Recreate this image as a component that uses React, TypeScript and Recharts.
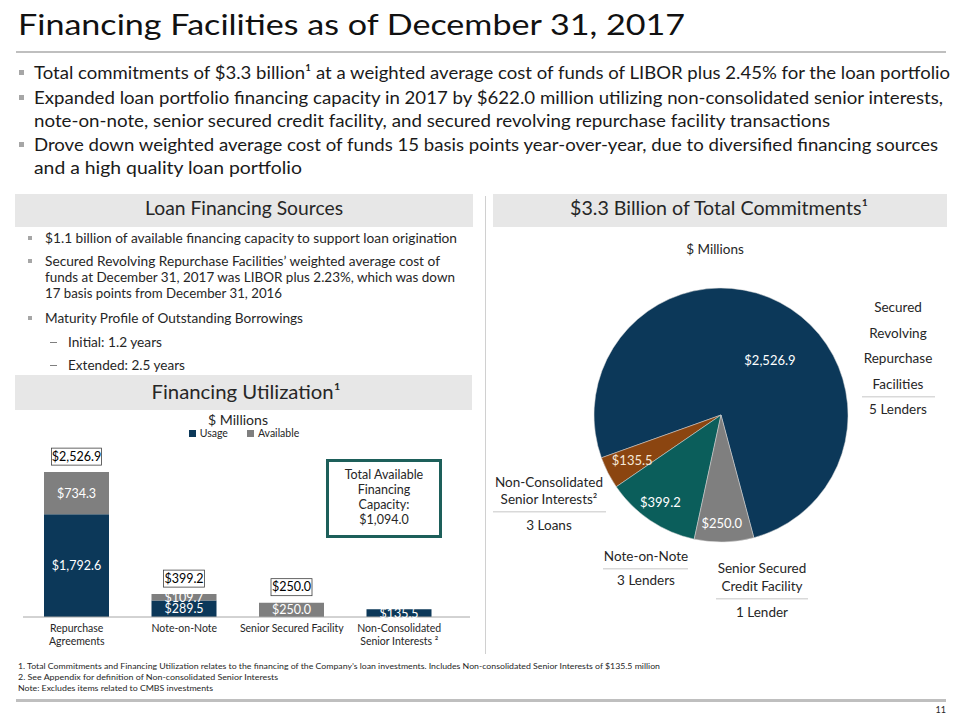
import React from 'react';
import { BarChart, Bar, XAxis, YAxis, LabelList, Legend, PieChart, Pie, Cell } from 'recharts';

// ---------- data ----------
const categories = ['Repurchase Agreements', 'Note-on-Note', 'Senior Secured Facility', 'Non-Consolidated Senior Interests'];
const tickLines = [['Repurchase', 'Agreements'], ['Note-on-Note'], ['Senior Secured Facility'], ['Non-Consolidated', 'Senior Interests ²']];
const usage = [1792.6, 289.5, 0, 135.5];
const available = [734.3, 109.7, 250.0, 0];
const totals = [2526.9, 399.2, 250.0, 135.5];
const totalAvailable = 1094.0;
const seriesNames = ['Usage', 'Available'];

const pieNames = ['Secured Revolving Repurchase Facilities', 'Non-Consolidated Senior Interests', 'Note-on-Note', 'Senior Secured Credit Facility'];
const pieValues = [2526.9, 135.5, 399.2, 250.0];

const topBullets = [
  ['Total commitments of $3.3 billion¹ at a weighted average cost of funds of LIBOR plus 2.45% for the loan portfolio'],
  ['Expanded loan portfolio financing capacity in 2017 by $622.0 million utilizing non-consolidated senior interests,', 'note-on-note, senior secured credit facility, and secured revolving repurchase facility transactions'],
  ['Drove down weighted average cost of funds 15 basis points year-over-year, due to diversified financing sources', 'and a high quality loan portfolio'],
];

const footnotes = [
  '1. Total Commitments and Financing Utilization relates to the financing of the Company’s loan investments. Includes Non-consolidated Senior Interests of $135.5 million',
  '2. See Appendix for definition of Non-consolidated Senior Interests',
  'Note: Excludes items related to CMBS investments',
];

// ---------- styles ----------
const FONT = 'Lato, "Liberation Sans", Arial, sans-serif';
const NAVY = '#0c3859';
const GRAY = '#7f7f7f';
const ORANGE = '#8b4510';
const TEAL = '#0b5e5b';
const pieColors = [NAVY, ORANGE, TEAL, GRAY];
const TXT = '#262626';

const fmt = (v: number) => '$' + v.toLocaleString('en-US', { minimumFractionDigits: 1, maximumFractionDigits: 1 });

const barData = categories.map((c, i) => ({ name: c, usage: usage[i], available: available[i], total: totals[i] }));
const pieData = pieNames.map((n, i) => ({ name: n, value: pieValues[i] }));

function T(props: any) {
  const { x, y, size, children, anchor = 'start', len, fill = TXT } = props;
  return (
    <text x={x} y={y} fontSize={size} textAnchor={anchor} fill={fill} fontFamily={FONT}
      textLength={len} lengthAdjust={len ? 'spacingAndGlyphs' : undefined}>
      {children}
    </text>
  );
}

function CategoryTick(props: any) {
  const { x, y, index } = props;
  const lines = tickLines[index] || [];
  return (
    <g>
      {lines.map((l, k) => (
        <text key={k} x={x} y={y + 15 + k * 13} textAnchor="middle" fontSize={10.5} fill={TXT} fontFamily={FONT}>{l}</text>
      ))}
    </g>
  );
}

function InsideLabel(props: any) {
  const { x, y, width, height, value } = props;
  if (!value) return null;
  return (
    <text x={Number(x) + Number(width) / 2} y={Number(y) + Number(height) / 2} dy="0.36em" textAnchor="middle"
      fontSize={12.5} fill="#ffffff" fontFamily={FONT}>{fmt(Number(value))}</text>
  );
}

function TotalLabel(props: any) {
  const { x, y, width, value } = props;
  const s = fmt(Number(value));
  const w = s.length * 4.5 + 14;
  const cx = Number(x) + Number(width) / 2;
  const bottom = Number(y) - 7;
  return (
    <g>
      <rect x={cx - w / 2} y={bottom - 17} width={w} height={17} fill="#fff" stroke="#404040" strokeWidth={0.8} />
      <text x={cx} y={bottom - 4.5} textAnchor="middle" fontSize={12.5} fill="#000" fontFamily={FONT}>{s}</text>
    </g>
  );
}

function LegendContent(props: any) {
  const items = [...(props.payload || [])].sort(
    (a: any, b: any) => seriesNames.indexOf(a.value) - seriesNames.indexOf(b.value)
  );
  return (
    <div style={{ display: 'flex', justifyContent: 'center', gap: 19, fontSize: 10.5, fontFamily: FONT, color: TXT, lineHeight: '12px' }}>
      {items.map((p: any, i: number) => (
        <span key={i} style={{ display: 'flex', alignItems: 'center' }}>
          <span style={{ width: 7, height: 7, background: p.color, marginRight: 4, display: 'inline-block' }} />
          {p.value}
        </span>
      ))}
    </div>
  );
}

const RAD = Math.PI / 180;
const labelRadius = [0.58, 0.785, 0.835, 0.85];
const labelAngleShift = [-14, 0, -1, -1];
function PieLabel(props: any) {
  const { cx, cy, midAngle, outerRadius, index, value } = props;
  const r = outerRadius * labelRadius[index];
  const a = (midAngle + labelAngleShift[index]) * RAD;
  const x = cx + r * Math.cos(-a);
  const y = cy + r * Math.sin(-a);
  return (
    <text x={x} y={y} dy="0.36em" textAnchor="middle" fontSize={13} fill={index === 1 ? '#f6e8d8' : '#ffffff'} fontFamily={FONT}>
      {fmt(Number(value))}
    </text>
  );
}

function Background() {
  const bulletY = [73, 98, 145];
  const lineY: number[][] = [[79], [104, 127], [151, 174]];
  const lineLen: number[][] = [[916], [909, 796], [904, 268]];
  return (
    <svg width={960} height={720} style={{ position: 'absolute', left: 0, top: 0 }}>
      <rect x={0} y={0} width={960} height={720} fill="#ffffff" />
      {/* title */}
      <T x={18} y={35} size={28} len={667} fill="#111">Financing Facilities as of December 31, 2017</T>
      <rect x={16} y={51} width={930} height={2} fill="#bfbfbf" />
      {/* top bullets */}
      {topBullets.map((b, i) => (
        <g key={i}>
          <rect x={19} y={bulletY[i] - 3} width={5} height={5} fill="#a6a6a6" />
          {b.map((l, k) => (
            <T key={k} x={34} y={lineY[i][k]} size={18} len={lineLen[i][k]} fill="#1a1a1a">{l}</T>
          ))}
        </g>
      ))}
      {/* section headers */}
      <rect x={15} y={194} width={458} height={33} fill="#e7e7e7" />
      <T x={244} y={215} size={19} anchor="middle" len={198}>Loan Financing Sources</T>
      <rect x={493} y={194} width={454} height={33} fill="#e7e7e7" />
      <T x={719} y={215} size={19} anchor="middle" len={298}>$3.3 Billion of Total Commitments¹</T>
      <rect x={485} y={196} width={1} height={458} fill="#d0d0d0" />
      {/* left bullets */}
      <rect x={28} y={236} width={4} height={4} fill="#a6a6a6" />
      <T x={45} y={242.5} size={13} len={412}>$1.1 billion of available financing capacity to support loan origination</T>
      <rect x={28} y={259} width={4} height={4} fill="#a6a6a6" />
      <T x={45} y={265.5} size={13} len={395}>Secured Revolving Repurchase Facilities’ weighted average cost of</T>
      <T x={45} y={281.5} size={13} len={410}>funds at December 31, 2017  was LIBOR plus 2.23%,  which was down</T>
      <T x={45} y={297.5} size={13} len={237}>17 basis points from December 31, 2016</T>
      <rect x={28} y={316} width={4} height={4} fill="#a6a6a6" />
      <T x={45} y={322.5} size={13} len={258}>Maturity Profile of Outstanding Borrowings</T>
      <rect x={50} y={342} width={7} height={1} fill="#7f7f7f" />
      <T x={68} y={347} size={13} len={94}>Initial: 1.2 years</T>
      <rect x={50} y={365} width={7} height={1} fill="#7f7f7f" />
      <T x={68} y={369.5} size={13} len={117}>Extended: 2.5 years</T>
      {/* financing utilization header */}
      <rect x={15} y={375} width={457} height={35} fill="#e7e7e7" />
      <T x={246} y={399} size={19} anchor="middle" len={189}>Financing Utilization¹</T>
      <T x={238} y={425} size={14} anchor="middle" len={60}>$ Millions</T>
      {/* total available box */}
      <rect x={327.5} y={460.5} width={113} height={76} fill="#fff" stroke="#1d5f5a" strokeWidth={3} />
      <T x={384} y={479} size={12.5} anchor="middle">Total Available</T>
      <T x={384} y={494} size={12.5} anchor="middle">Financing</T>
      <T x={384} y={509} size={12.5} anchor="middle">Capacity:</T>
      <T x={384} y={524} size={12.5} anchor="middle">{fmt(totalAvailable)}</T>
      {/* pie annotations */}
      <T x={715} y={254} size={13.5} anchor="middle">$ Millions</T>
      <T x={898} y={312} size={13.5} anchor="middle">Secured</T>
      <T x={898} y={338} size={13.5} anchor="middle">Revolving</T>
      <T x={898} y={363} size={13.5} anchor="middle">Repurchase</T>
      <T x={898} y={389} size={13.5} anchor="middle">Facilities</T>
      <rect x={862} y={396} width={73} height={1.5} fill="#d9d9d9" />
      <T x={898} y={414} size={13.5} anchor="middle">5 Lenders</T>
      <T x={549} y={487} size={13.5} anchor="middle">Non-Consolidated</T>
      <T x={549} y={504} size={13.5} anchor="middle">Senior Interests²</T>
      <rect x={493} y={511} width={113} height={1.5} fill="#d9d9d9" />
      <T x={549} y={530} size={13.5} anchor="middle">3 Loans</T>
      <T x={646} y={561} size={13.5} anchor="middle">Note-on-Note</T>
      <rect x={603} y={568} width={85} height={1.5} fill="#d9d9d9" />
      <T x={646} y={585} size={13.5} anchor="middle">3 Lenders</T>
      <T x={762} y={573} size={13.5} anchor="middle">Senior Secured</T>
      <T x={762} y={591} size={13.5} anchor="middle">Credit Facility</T>
      <rect x={716} y={598} width={92} height={1.5} fill="#d9d9d9" />
      <T x={762} y={617} size={13.5} anchor="middle">1 Lender</T>
      {/* footnotes */}
      <T x={18} y={669} size={8} len={642}>{footnotes[0]}</T>
      <T x={18} y={680} size={8} len={260}>{footnotes[1]}</T>
      <T x={18} y={691} size={8} len={195}>{footnotes[2]}</T>
      <rect x={16} y={699} width={930} height={3} fill="#bfbfbf" />
      <T x={946} y={713} size={9} anchor="end">11</T>
    </svg>
  );
}

export default function App() {
  return (
    <div style={{ position: 'absolute', left: 0, top: 0, width: 960, height: 720, background: '#fff', fontFamily: FONT }}>
      <Background />
      <div style={{ position: 'absolute', left: 0, top: 400 }}>
        <BarChart width={480} height={250} data={barData} margin={{ top: 45, right: 10, bottom: 0, left: 23 }} barSize={65}>
          <XAxis dataKey="name" interval={0} height={33} tickSize={0} tickMargin={0} tickLine={false}
            axisLine={{ stroke: '#a6a6a6' }} padding={{ left: 0, right: 17 }} tick={<CategoryTick />} />
          <YAxis hide domain={[0, 3000]} />
          <Legend verticalAlign="middle" align="center" layout="horizontal" itemSorter={null}
            wrapperStyle={{ top: 27, left: 0, width: 488, height: 14 }} content={<LegendContent />} />
          <Bar dataKey="usage" name={seriesNames[0]} stackId="a" fill={NAVY} isAnimationActive={false}>
            <LabelList dataKey="usage" content={<InsideLabel />} />
          </Bar>
          <Bar dataKey="available" name={seriesNames[1]} stackId="a" fill={GRAY} isAnimationActive={false}>
            <LabelList dataKey="available" content={<InsideLabel />} />
            <LabelList dataKey="total" content={<TotalLabel />} />
          </Bar>
        </BarChart>
      </div>
      <div style={{ position: 'absolute', left: 480, top: 190 }}>
        <PieChart width={480} height={440} margin={{ top: 0, right: 0, bottom: 0, left: 0 }}>
          <Pie data={pieData} dataKey="value" nameKey="name" cx={241} cy={225} outerRadius={127}
            startAngle={-75} endAngle={285} isAnimationActive={false} label={<PieLabel />} labelLine={false}
            stroke="#d8d8d8" strokeWidth={0.5}>
            {pieData.map((d, i) => (
              <Cell key={i} fill={pieColors[i]} />
            ))}
          </Pie>
        </PieChart>
      </div>
    </div>
  );
}
